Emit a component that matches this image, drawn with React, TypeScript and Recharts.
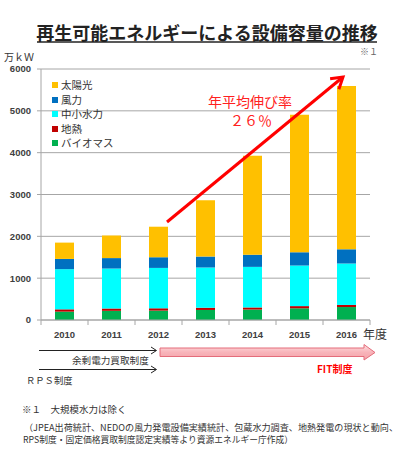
import React from 'react';
import { BarChart, Bar, XAxis, YAxis, CartesianGrid, Legend } from 'recharts';

// 万kW
const years = ['2010', '2011', '2012', '2013', '2014', '2015', '2016'];
const biomass = [200, 220, 225, 240, 250, 280, 310];
const geothermal = [55, 55, 55, 53, 50, 52, 50];
const hydro = [960, 955, 965, 962, 970, 970, 990];
const wind = [245, 250, 255, 262, 290, 317, 340];
const solar = [390, 540, 730, 1347, 2365, 3286, 3905];
const yTicks = [0, 1000, 2000, 3000, 4000, 5000, 6000];

const series = [
  { key: 'biomass', name: 'バイオマス', color: '#00B050', values: biomass },
  { key: 'geothermal', name: '地熱', color: '#C00000', values: geothermal },
  { key: 'hydro', name: '中小水力', color: '#00FFFF', values: hydro },
  { key: 'wind', name: '風力', color: '#0070C0', values: wind },
  { key: 'solar', name: '太陽光', color: '#FFC000', values: solar },
];

const data = years.map((year, i) => {
  const row: Record<string, string | number> = { year };
  series.forEach((s) => { row[s.key] = s.values[i]; });
  return row;
});

const JP = '"Noto Sans CJK JP", sans-serif';
const NUM = '"Liberation Sans", Arial, sans-serif';
const GRID = '#A6A6A6';

const YearTick = (props: any) => {
  const { x, y, payload, index } = props;
  const half = 23.5;
  return (
    <g>
      <line x1={x - half} x2={x - half} y1={y - 5} y2={y} stroke={GRID} />
      {index === years.length - 1 && (
        <line x1={x + half} x2={x + half} y1={y - 5} y2={y} stroke={GRID} />
      )}
      <text x={x} y={y + 13} textAnchor="middle" fontSize={9.5} fontWeight="bold" fill="#404040" fontFamily={NUM}>
        {payload.value}
      </text>
    </g>
  );
};

// legend lists the stack top-down
const renderLegend = () => (
  <div style={{ fontFamily: JP, fontSize: 10.5, color: '#333', lineHeight: 1 }}>
    {[...series].reverse().map((s) => (
      <div key={s.key} style={{ display: 'flex', alignItems: 'center', height: 14.5 }}>
        <span style={{ width: 6, height: 6, background: s.color, marginRight: 3 }} />
        {s.name}
      </div>
    ))}
  </div>
);

// red growth arrow
const ax1 = 167, ay1 = 222, ax2 = 343, ay2 = 77;
const len = Math.hypot(ax2 - ax1, ay2 - ay1);
const ux = (ax2 - ax1) / len, uy = (ay2 - ay1) / len;
const head = (sign: number) => {
  const a = (sign * 32 * Math.PI) / 180;
  const dx = ux * Math.cos(a) - uy * Math.sin(a);
  const dy = ux * Math.sin(a) + uy * Math.cos(a);
  return `${ax2 - 13 * dx},${ay2 - 13 * dy}`;
};

export default function App() {
  return (
    <div style={{ position: 'absolute', left: 0, top: 0, width: 400, height: 460, background: '#fff' }}>
      <BarChart
        width={400}
        height={460}
        data={data}
        margin={{ top: 69, right: 30, bottom: 110, left: 1 }}
        barSize={19}
      >
        <CartesianGrid vertical={false} stroke={GRID} />
        <XAxis
          dataKey="year"
          height={30}
          stroke={GRID}
          tickLine={false}
          tickSize={5}
          tickMargin={0}
          interval={0}
          tick={<YearTick />}
        />
        <YAxis
          width={40}
          domain={[0, 6000]}
          ticks={yTicks}
          interval={0}
          stroke={GRID}
          tickSize={4}
          tickMargin={6}
          tick={{ fontSize: 9.5, fontWeight: 'bold', fill: '#404040', fontFamily: NUM }}
        />
        <Legend
          layout="vertical"
          align="center"
          verticalAlign="middle"
          content={renderLegend}
          wrapperStyle={{ left: 52, top: 78, width: 80, height: 75 }}
        />
        {series.map((s) => (
          <Bar key={s.key} dataKey={s.key} name={s.name} stackId="a" fill={s.color} isAnimationActive={false} />
        ))}
      </BarChart>

      <svg width={400} height={460} style={{ position: 'absolute', left: 0, top: 0, pointerEvents: 'none' }}>
        <text x={207} y={39.5} textAnchor="middle" fontFamily={JP} fontSize={18} fontWeight="bold" fill="#222">
          再生可能エネルギーによる設備容量の推移
        </text>
        <line x1={37} x2={377} y1={42} y2={42} stroke="#222" strokeWidth={1.5} />
        <text x={378} y={55} textAnchor="end" fontFamily={JP} fontSize={9} fill="#666">※１</text>
        <text x={4} y={61} fontFamily={JP} fontSize={10} fill="#333">万ｋＷ</text>
        <text x={363} y={339} fontFamily={JP} fontSize={12} fill="#333">年度</text>

        <line x1={ax1} y1={ay1} x2={ax2} y2={ay2} stroke="#FF0000" strokeWidth={3} />
        <polyline points={`${head(1)} ${ax2},${ay2} ${head(-1)}`} fill="none" stroke="#FF0000" strokeWidth={3} />
        <text x={250} y={107} textAnchor="middle" fontFamily={JP} fontSize={14} fill="#FF2020">年平均伸び率</text>
        <text x={251} y={126} textAnchor="middle" fontFamily={JP} fontSize={14} fill="#FF2020">２６％</text>

        <defs>
          <linearGradient id="fit" x1="0" y1="0" x2="0" y2="1">
            <stop offset="0" stopColor="#FDE0E2" />
            <stop offset="0.5" stopColor="#F8B4BA" />
            <stop offset="1" stopColor="#F4A3AA" />
          </linearGradient>
        </defs>
        <polygon
          points="160,348 364,348 364,344.5 375,352.5 364,360 364,356.5 160,356.5"
          fill="url(#fit)"
          stroke="#E46C7A"
          strokeWidth={1}
        />
        <text x={317} y={373} fontFamily={JP} fontSize={10} fontWeight="bold" fill="#FF0000">FIT制度</text>

        <line x1={39} x2={156} y1={350.5} y2={350.5} stroke="#222" />
        <polyline points="151,347 156.5,350.5 151,354" fill="none" stroke="#222" />
        <text x={72} y={364} fontFamily={JP} fontSize={9.6} fill="#333">余剰電力買取制度</text>
        <line x1={39} x2={156} y1={369.5} y2={369.5} stroke="#222" />
        <polyline points="151,366 156.5,369.5 151,373" fill="none" stroke="#222" />
        <text x={26} y={384} fontFamily={JP} fontSize={9.3} fill="#333">ＲＰＳ制度</text>

        <text x={22} y={413} fontFamily={JP} fontSize={9.5} fill="#333">※１　大規模水力は除く</text>
        <text x={24} y={431} fontFamily={JP} fontSize={9} fill="#333" textLength={374} lengthAdjust="spacingAndGlyphs">
          （JPEA出荷統計、NEDOの風力発電設備実績統計、包蔵水力調査、地熱発電の現状と動向、
        </text>
        <text x={23} y={443} fontFamily={JP} fontSize={9} fill="#333" textLength={270} lengthAdjust="spacingAndGlyphs">
          RPS制度・固定価格買取制度認定実績等より資源エネルギー庁作成）
        </text>
      </svg>
    </div>
  );
}
